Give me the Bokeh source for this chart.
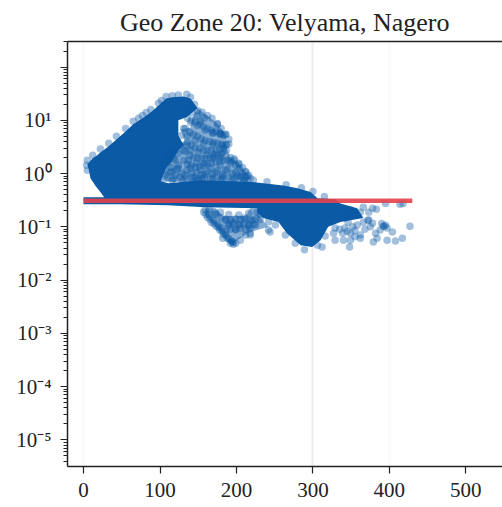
from bokeh.plotting import figure
from bokeh.models import LinearAxis, FixedTicker, Grid, Title
from bokeh.embed import file_html
from bokeh.resources import INLINE

TITLE = "Geo Zone 20: Velyama, Nagero"
x_ticks = [0, 100, 200, 300, 400, 500]
y_exponents = [-5, -4, -3, -2, -1, 0, 1, 2]
y_labels = ["10⁻⁵", "10⁻⁴", "10⁻³", "10⁻²", "10⁻¹", "10⁰", "10¹", ""]

# dense body of the cloud
core_x = [0, 27, 22, 16, 9, 7, 5, 12, 18, 22, 33, 43, 55, 65, 77, 88, 98, 108, 116, 131, 140, 149,
          135, 124, 124, 131, 124, 116, 107, 101, 111, 153, 218, 261, 280, 297, 306, 329, 336, 358, 366,
          336, 320, 310, 299, 284, 266, 255, 235, 227, 227, 159, 110, 48, 0]
core_y = [.36, .36, .45, .58, .82, 1.15, 1.5, 1.94, 2.2, 2.5, 3.25, 4.35, 6.2, 8.4, 10.9, 14.2, 19, 25.7, 27, 28, 25.7, 16.8,
          11.6, 10, 5.2, 3.4, 2.73, 1.77, 1.2, .72, .66, .75, .70, .6, .53, .45, .345, .33, .275, .224, .146,
          .123, .1, .056, .042, .045, .076, .123, .146, .188, .224, .234, .255, .265, .265]

# medium-density lobes right of the peak and under the band, as outlines
lobe_hi_x = [127, 140, 142, 149, 162, 175, 186, 186, 192, 203, 212, 218, 212, 98, 98, 120, 132]
lobe_hi_y = [6.7, 7.3, 10.9, 16.8, 12.3, 8.7, 5.4, 3.39, 2, 1.56, 1.06, .82, .7, .7, 1.3, 2.73, 4.2]
lobe_lo_x = [159, 173, 182, 212, 218, 227, 234, 242, 218, 205, 196, 190, 173, 159]
lobe_lo_y = [.224, .224, .159, .159, .224, .224, .133, .1, .08, .061, .049, .049, .095, .166]

# sparser points around the body
upper_x = [149, 162, 175, 186, 186, 192, 203, 212, 218, 145, 155, 168, 180, 190, 187, 197, 208, 216, 158,
           140, 149, 159, 169, 179, 136, 146, 157, 169, 182, 140, 150, 161, 171, 182, 137, 148, 158, 169, 179,
           124, 140, 153, 166, 179, 192, 120, 133, 146, 159, 173, 186, 199, 205, 116, 129, 143, 155, 169, 182, 195, 210,
           107, 114, 111, 120, 120, 127, 107, 116, 124, 131, 135, 131, 128, 135,
           5, 4, 5, 12, 22, 33, 43, 55, 65, 77, 88, 98, 108, 116, 124, 135, 140, 102, 82, 72,
           175, 186, 190, 169, 179, 187, 197, 203, 212, 149, 142, 153]
upper_y = [15.3, 12.3, 8.7, 5.4, 3.39, 2, 1.56, 1.06, .82, 20, 14.2, 10.9, 7, 4.4, 2.73, 1.77, 1.3, .93, 10.9,
           9.2, 8, 6.5, 5.7, 5.4, 5.2, 4.2, 3.7, 3.55, 3.39, 2.73, 2.5, 2.2, 2.3, 2.5, 1.77, 1.56, 1.56, 1.94, 2,
           1.26, 1.26, 1.15, 1.26, 1.43, 1.56, .93, .93, .85, .98, 1.06, 1.15, 1.06, .89, .75, .75, .72, .82, .82, .89, .78, .75,
           1.15, 1.06, 1.77, 2.73, 1.77, 3.39, .93, 2.2, 1.43, 2.73, 3.39, 7, 5.2, 14,
           1.77, 1.43, 1.15, 2.2, 2.9, 3.7, 5, 7, 9.6, 12.3, 16, 21, 28, 29, 30, 31, 27, 23.6, 14, 10.9,
           8.4, 5.5, 3.6, 5.9, 5.6, 3.5, 1.9, 1.5, 1.1, 12, 14, 9.6]

arc_x = [136, 141, 146, 152, 157, 162, 167, 173, 178, 183,
         133, 139, 144, 149, 154, 159, 165, 170, 175, 180,
         136, 141, 146, 152, 157, 162, 167, 173, 178, 183,
         133, 139, 144, 149, 154, 159, 165, 170, 175, 180,
         131, 136, 141, 146, 152, 157, 162, 167, 173, 178, 183, 188, 193, 199, 204,
         116, 122, 129, 135, 141, 148, 155, 162, 168, 175, 182, 188, 195, 201, 208, 214,
         110, 118, 126, 134, 142, 150, 158, 166, 174, 182, 190, 198, 206, 214, 222,
         105, 110, 115, 108, 113, 118, 112, 118, 124]
arc_y = [10.9, 10, 9.2, 8.4, 7.6, 7, 6.5, 6.2, 5.7, 5.2,
         7, 6, 5.4, 5, 4.5, 4.2, 4, 3.85, 3.7, 3.55,
         3.85, 3.39, 3.1, 3, 2.73, 2.73, 2.73, 2.73, 2.85, 3,
         2.6, 2.2, 2, 1.94, 1.94, 1.94, 2, 2.1, 2.2, 2.3,
         1.77, 1.49, 1.43, 1.31, 1.37, 1.43, 1.49, 1.56, 1.62, 1.7, 1.77, 1.77, 1.7, 1.43, 1.26,
         1.1, 1.2, 1.0, 1.15, 1.0, 1.05, .95, 1.1, .98, 1.15, .98, 1.2, 1.0, .92, .98, .9,
         .85, .8, .86, .8, .85, .8, .86, .8, .85, .82, .85, .8, .85, .82, .76,
         1.5, 1.6, 1.3, 1.9, 2.2, 1.9, 2.6, 3, 2.4]

lower_x = [157, 162, 167, 173, 178, 183, 188, 193, 196, 192, 159, 164, 170, 176, 181, 186,
           179, 190, 203, 216, 227, 195, 205, 190, 216, 199, 221, 212, 218, 225, 244, 205, 199, 182, 173, 186, 210, 231,
           218, 195, 242,
           186, 192, 199, 205, 212, 218, 225, 231, 190, 197, 203, 210, 216, 223, 192, 199, 205, 212, 218,
           160, 165, 170, 176, 181, 186, 190, 195, 165, 172, 180,
           150, 180, 210, 240, 265, 285, 300, 315]
lower_y = [.188, .152, .122, .104, .087, .072, .061, .054, .047, .049, .206, .171, .133, .112, .095, .08,
           .188, .171, .166, .18, .188, .122, .112, .104, .104, .087, .133, .07, .076, .108, .08, .056, .049, .061, .18, .133, .146, .175,
           .07, .052, .087,
           .139, .135, .142, .137, .14, .135, .14, .138, .112, .115, .11, .113, .11, .112, .091, .09, .093, .09, .092,
           .17, .14, .115, .098, .082, .07, .06, .052, .21, .17, .15,
           .76, .77, .73, .7, .62, .54, .46, .37]

tail_x = [366, 383, 395, 414, 418, 427, 392, 397, 404, 372, 378, 327, 329, 339, 349, 340, 349, 362, 362, 382, 384,
          379, 397, 408, 417, 348, 312, 289, 329, 358, 366, 388, 373, 355, 362, 378, 346, 342,
          393, 395, 373, 306, 316, 277, 264, 251, 242, 342, 349,
          335, 345, 355, 352, 368, 390, 375, 355]
tail_y = [.234, .215, .275, .265, .275, .103, .103, .095, .08, .133, .117, .076, .056, .076, .076, .056, .056, .07, .061, .076, .061,
          .052, .056, .054, .061, .042, .042, .037, .095, .108, .122, .087, .188, .166, .188, .224, .122, .095,
          .103, .107, .135, .045, .067, .049, .07, .108, .125, .146, .206,
          .09, .083, .085, .1, .09, .115, .1, .065]

line_x = [0, 430]
line_y = [.31, .31]

BLUE = "#0b5aa6"
INK = "#222222"
FONT = "Liberation Serif"

p = figure(width=502, height=504, y_axis_type="log", x_range=(-21, 548), y_range=(10 ** -5.5, 10 ** 2.48),
           output_backend="svg", toolbar_location=None, min_border_left=67, min_border_right=0,
           min_border_top=38, min_border_bottom=38)
p.title = Title(text=TITLE, align="center", text_font=FONT, text_font_size="26px",
                text_font_style="normal", text_color=INK)
p.outline_line_color = None
p.background_fill_color = "white"
p.grid.visible = False

for ticks, colour, width in (([300], "#eeeeee", 2), ([0, 400], "#f9f9f9", 2)):
    p.add_layout(Grid(dimension=0, ticker=FixedTicker(ticks=ticks), grid_line_color=colour, grid_line_width=width))

p.patch(lobe_hi_x, lobe_hi_y, color=BLUE, alpha=0.5, line_width=0)
p.patch(lobe_lo_x, lobe_lo_y, color=BLUE, alpha=0.5, line_width=0)
p.patch(core_x, core_y, color=BLUE, line_width=0)
for xs, ys in ((upper_x, upper_y), (arc_x, arc_y), (lower_x, lower_y), (tail_x, tail_y)):
    p.scatter(xs, ys, size=7.5, color=BLUE, alpha=0.38, line_width=0)
p.line(line_x, line_y, line_color="#e2434b", line_alpha=0.9, line_width=4.5)

xa = p.xaxis[0]
xa.ticker = FixedTicker(ticks=x_ticks)
ya = p.yaxis[0]
majors = [10.0 ** e for e in y_exponents]
minors = [m * 10.0 ** e for e in range(-6, 3) for m in range(2, 10)]
ya.ticker = FixedTicker(ticks=majors, minor_ticks=minors)
ya.major_label_overrides = {t: s for t, s in zip(majors, y_labels)}

for a in (xa, ya):
    a.axis_line_color = INK
    a.axis_line_width = 1.5
    a.major_tick_line_color = INK
    a.major_tick_line_width = 1.2
    a.major_tick_in = 0
    a.major_tick_out = 7
    a.minor_tick_line_color = INK
    a.minor_tick_line_width = 1
    a.minor_tick_in = 0
    a.minor_tick_out = 4
    a.major_label_text_font = FONT
    a.major_label_text_font_size = "21px"
    a.major_label_text_color = INK
    a.major_label_standoff = 9
xa.minor_tick_out = 0

top = LinearAxis(ticker=FixedTicker(ticks=[]), major_label_text_font_size="0px",
                 major_tick_out=0, minor_tick_out=0, axis_line_color=INK, axis_line_width=1.5)
p.add_layout(top, "above")

open("out.html", "w").write(file_html(p, INLINE))
